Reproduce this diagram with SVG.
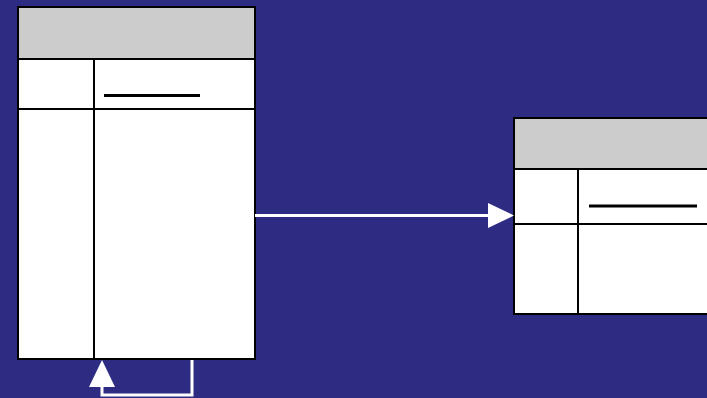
<svg xmlns="http://www.w3.org/2000/svg" width="707" height="398" viewBox="0 0 707 398">
<style>
.hdr{fill:#cccccc;stroke:#000;stroke-width:2}
.body{fill:#fff;stroke:#000;stroke-width:2}
.div{stroke:#000;stroke-width:2;fill:none}
.ul{stroke:#000;stroke-width:3}
.conn{stroke:#fff;stroke-width:3;fill:none}
.head{fill:#fff}
</style>
<rect width="707" height="398" fill="#2d2c82"/>
<g id="table1">
<rect class="body" x="18" y="7" width="237" height="352"/>
<rect class="hdr" x="18" y="7" width="237" height="52"/>
<line class="div" x1="18" y1="109" x2="255" y2="109"/>
<line class="div" x1="94" y1="59" x2="94" y2="359"/>
<line class="ul" x1="104" y1="95.500" x2="200" y2="95.500"/>
</g>
<g id="table2">
<rect class="body" x="514" y="118" width="200" height="196"/>
<rect class="hdr" x="514" y="118" width="200" height="51"/>
<line class="div" x1="514" y1="224" x2="714" y2="224"/>
<line class="div" x1="578" y1="169" x2="578" y2="314"/>
<line class="ul" x1="589" y1="206" x2="697" y2="206"/>
</g>
<g id="connectors">
<line class="conn" x1="255" y1="215.500" x2="490" y2="215.500"/>
<polygon class="head" points="488,203 514,215.500 488,228"/>
<polyline class="conn" points="192,360 192,395 102,395 102,385"/>
<polygon class="head" points="89,387 102,360 115,387"/>
</g>
</svg>
